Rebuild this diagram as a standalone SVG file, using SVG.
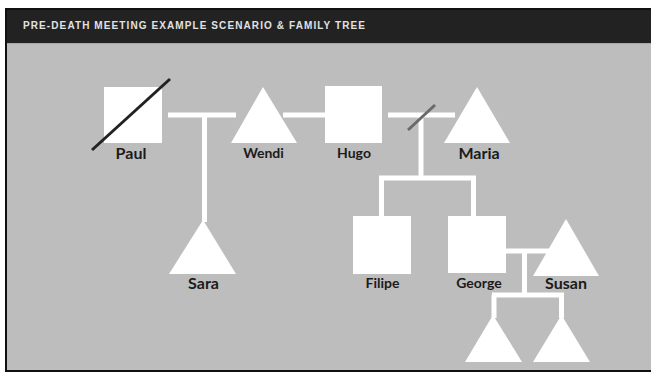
<svg xmlns="http://www.w3.org/2000/svg" width="651" height="372" viewBox="0 0 651 372">
<style>
.sym{fill:#ffffff}
.ln{stroke:#ffffff;stroke-width:5;fill:none}
.nm{font-family:Lato,"Liberation Sans",sans-serif;font-weight:bold;fill:#1b1b1b;text-anchor:middle}
.s14{font-size:14px}
.s16{font-size:16px}
</style>
<rect x="0" y="0" width="651" height="372" fill="#ffffff"/>
<rect x="5" y="8" width="646" height="364" fill="#111111"/>
<rect x="7" y="10" width="644" height="33" fill="#222222"/>
<rect x="7" y="43" width="644" height="327" fill="#bdbdbd"/>
<rect x="7" y="43" width="644" height="1" fill="#a8a8a8"/>
<text x="23" y="29" font-family="'Liberation Sans',sans-serif" font-size="10" font-weight="600" fill="#e2e2e2" textLength="342" lengthAdjust="spacing">PRE-DEATH MEETING EXAMPLE SCENARIO &amp; FAMILY TREE</text>

<g id="connectors">
<path class="ln" d="M168 115 H236 M204.5 115 V222"/>
<path class="ln" d="M283 115 H326"/>
<path class="ln" d="M388 115 H455 M421 115 V178 M380.5 178 H476 M381.5 175.5 V217 M473.5 175.5 V217"/>
<path class="ln" d="M505 251 H551 M524.5 251 V295 M492 295 H564 M494 295 V318 M561.5 295 V318"/>
<line x1="408" y1="130" x2="435" y2="105" stroke="#6a6a6a" stroke-width="3"/>
</g>

<g id="paul">
<rect class="sym" x="104" y="87" width="58" height="56"/>
<line x1="92" y1="150" x2="170" y2="79" stroke="#222222" stroke-width="3"/>
<text class="nm s16" x="131" y="159">Paul</text>
</g>
<g id="wendi">
<polygon class="sym" points="263,87 297,143 231,143"/>
<text class="nm s14" x="263.5" y="158">Wendi</text>
</g>
<g id="hugo">
<rect class="sym" x="325" y="86" width="57" height="57"/>
<text class="nm s14" x="354" y="158">Hugo</text>
</g>
<g id="maria">
<polygon class="sym" points="477,87 510,143 444,143"/>
<text class="nm s16" x="479" y="159">Maria</text>
</g>
<g id="sara">
<polygon class="sym" points="203,220 236,274 169,274"/>
<text class="nm s16" x="203.5" y="289">Sara</text>
</g>
<g id="filipe">
<rect class="sym" x="353" y="216" width="58" height="58"/>
<text class="nm s14" x="382.5" y="288">Filipe</text>
</g>
<g id="george">
<rect class="sym" x="448" y="216" width="58" height="57"/>
<text class="nm s14" x="479" y="288">George</text>
</g>
<g id="susan">
<polygon class="sym" points="566,219 599,276 533,276"/>
<text class="nm s16" x="566" y="289">Susan</text>
</g>
<g id="child1">
<polygon class="sym" points="493,315 522,362 465,362"/>
</g>
<g id="child2">
<polygon class="sym" points="561.5,315 590,362 533,362"/>
</g>
</svg>
